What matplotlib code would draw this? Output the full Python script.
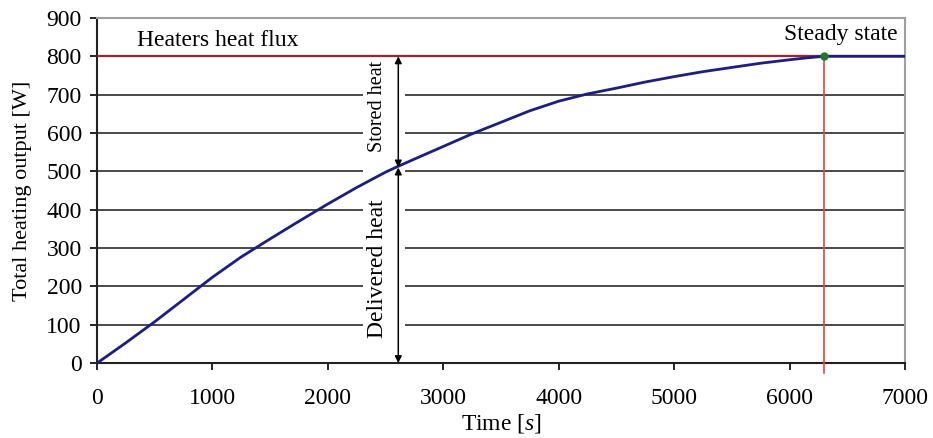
import numpy as np
import matplotlib.pyplot as plt

plt.rcParams['font.family'] = ['Liberation Serif', 'DejaVu Serif']
plt.rcParams['mathtext.fontset'] = 'custom'
plt.rcParams['mathtext.rm'] = 'Liberation Serif'
plt.rcParams['mathtext.it'] = 'Liberation Serif:italic'

# Данные кривой
time_s = [0, 250, 500, 750, 1000, 1250, 1500, 1750, 2000, 2250, 2500, 2600,
          2750, 3000, 3250, 3500, 3750, 4000, 4250, 4500, 4750, 5000, 5250,
          5500, 5750, 6000, 6150, 6300, 7000]
heat_w = [0, 53, 108, 166, 224, 277, 324, 370, 415, 458, 498, 512,
          532, 565, 598, 628, 658, 683, 702, 717, 733, 747, 760,
          771, 782, 791, 796, 800, 800]

heater_flux = 800
steady_time = 6300
arrow_x = 2610
split_y = 510

fig = plt.figure(figsize=(9.33, 4.38), dpi=100)
ax = fig.add_axes([0.104, 0.171, 0.866, 0.788])

# Сетка
for yv in range(100, 900, 100):
    ax.axhline(yv, color='#4a4a4a', lw=1.4, zorder=1)
# белый просвет под подписями и стрелками
ax.axvspan(2300, 2670, ymin=0.005, ymax=heater_flux / 900 - 0.005,
           color='white', lw=0, zorder=2)

ax.plot(time_s, heat_w, color='#1c1c8c', lw=2, zorder=4)
ax.axhline(heater_flux, color='#a8202a', lw=1.6, zorder=3)
ax.plot([steady_time, steady_time], [-25, heater_flux], color='#e8463c',
        lw=1.2, clip_on=False, zorder=3)
ax.plot([steady_time], [heater_flux], 'o', color='#1e7a2a', ms=5, zorder=5)

# Стрелки
arr = dict(arrowstyle='<|-|>', color='black', lw=1.1, mutation_scale=10,
           shrinkA=0, shrinkB=0)
ax.annotate('', xy=(arrow_x, heater_flux), xytext=(arrow_x, split_y), arrowprops=arr, zorder=6)
ax.annotate('', xy=(arrow_x, split_y), xytext=(arrow_x, 0), arrowprops=arr, zorder=6)

ax.text(2430, 670, 'Stored heat', rotation=90, ha='center', va='center',
        fontsize=14.5, zorder=3)
ax.text(2430, 245, 'Delivered heat', rotation=90, ha='center', va='center',
        fontsize=17, zorder=3)
ax.text(1050, 840, 'Heaters heat flux', ha='center', va='center', fontsize=17)
ax.text(6940, 858, 'Steady state', ha='right', va='center', fontsize=17)

ax.set_xlim(0, 7000)
ax.set_ylim(0, 900)
ax.set_xticks(range(0, 7001, 1000))
ax.set_yticks(range(0, 901, 100))
ax.tick_params(direction='out', length=5, width=1.2, labelsize=17)
ax.tick_params(axis='x', pad=13)
ax.tick_params(axis='y', pad=6)
for s in ['top', 'right']:
    ax.spines[s].set_color('#a0a0a0')
    ax.spines[s].set_linewidth(1.5)
for s in ['left', 'bottom']:
    ax.spines[s].set_color('#222222')
    ax.spines[s].set_linewidth(1.5)

ax.set_xlabel('Time [$s$]', fontsize=17, labelpad=2)
ax.set_ylabel('Total heating output [W]', fontsize=16, labelpad=10)

fig.savefig('out.png', dpi=100)
